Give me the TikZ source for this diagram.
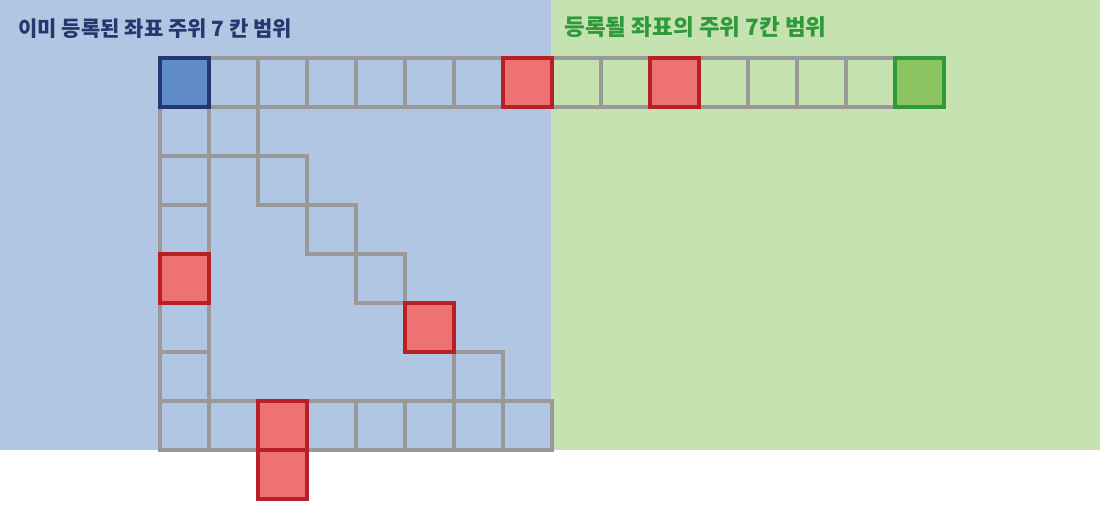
\documentclass[tikz,border=0pt]{standalone}
\usepackage{fontspec}
\newfontfamily\krfont{Noto Sans CJK KR}
\definecolor{bgblue}{HTML}{B0C6E3}
\definecolor{bggreen}{HTML}{C6E2B1}
\definecolor{gridgray}{HTML}{999999}
\definecolor{hitfill}{HTML}{EE7272}
\definecolor{hitline}{HTML}{B72025}
\definecolor{oldfill}{HTML}{5F8BC8}
\definecolor{oldline}{HTML}{22386F}
\definecolor{newfill}{HTML}{8BC460}
\definecolor{newline}{HTML}{2E9A3A}
\tikzset{
  cell/.style={draw=gridgray, line width=3.5pt},
  hitcell/.style={draw=hitline, fill=hitfill, line width=3.5pt},
  title/.style={anchor=base west, font=\krfont\bfseries\fontsize{21}{25}\selectfont}
}

\begin{document}
\begin{tikzpicture}[x=1pt, y=-1pt]
\useasboundingbox (0,0) rectangle (1100,507);

\fill[bgblue] (0,0) rectangle (551,450);
\fill[bggreen] (551,0) rectangle (1100,450);

\node[title, text=oldline] (oldtitle) at (15,36) {이미 등록된 좌표 주위 7 칸 범위};
\node[title, text=newline, font=\krfont\bfseries\fontsize{22.5}{26}\selectfont] (newtitle) at (561,35.5) {등록될 좌표의 주위 7칸 범위};

\begin{scope}[shift={(160,58)}, x=49pt, y=-49pt]

% grey range
\foreach \i in {0,...,15} \draw[cell] (\i,0) rectangle ++(1,1);
\foreach \j in {1,...,7} \draw[cell] (0,\j) rectangle ++(1,1);
\foreach \k in {1,...,6} \draw[cell] (\k,\k) rectangle ++(1,1);
\foreach \i in {1,...,7} \draw[cell] (\i,7) rectangle ++(1,1);

% hits
\foreach \i/\j in {7/0, 10/0, 0/4, 5/5, 2/7, 2/8}
  \draw[hitcell] (\i,\j) rectangle ++(1,1);

\filldraw[draw=oldline, fill=oldfill, line width=3.5pt] (0,0) rectangle (1,1);
\filldraw[draw=newline, fill=newfill, line width=3.5pt] (15,0) rectangle (16,1);

\end{scope}
\end{tikzpicture}
\end{document}
